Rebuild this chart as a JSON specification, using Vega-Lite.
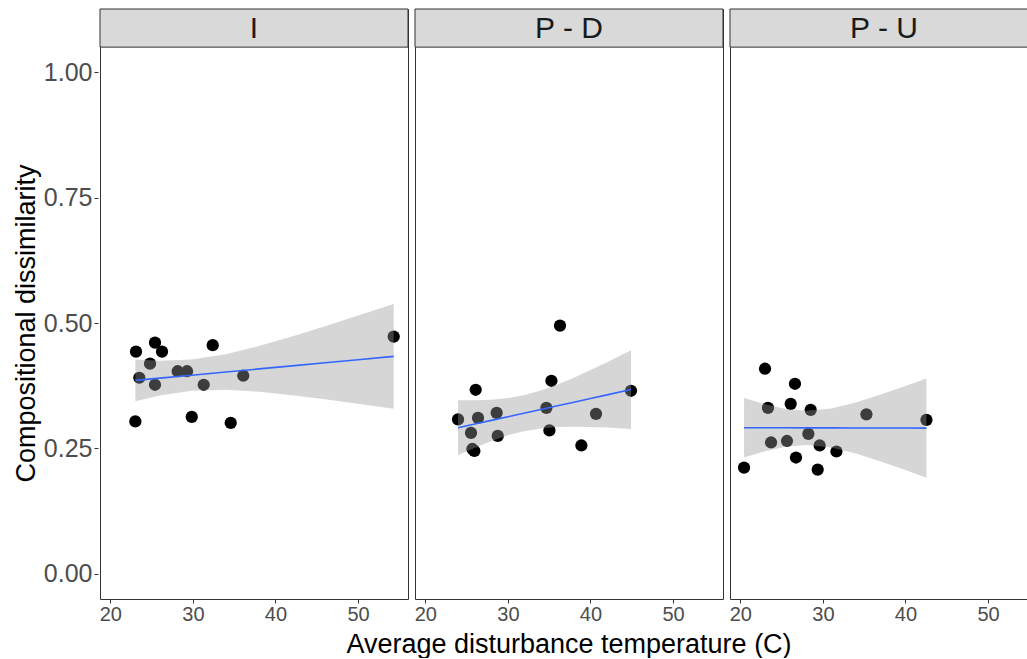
{
  "$schema": "https://vega.github.io/schema/vega-lite/v6.json",
  "padding": {"left": 12, "top": 8, "right": 0, "bottom": 0},
  "config": {
    "font": "Liberation Sans",
    "view": {"stroke": "#333333", "strokeWidth": 1},
    "axis": {
      "grid": false,
      "domain": false,
      "tickColor": "#333333",
      "tickSize": 4,
      "labelColor": "#4D4D4D",
      "labelFont": "Liberation Sans",
      "titleFont": "Liberation Sans",
      "titleFontWeight": "normal",
      "titleColor": "#000000"
    },
    "header": {
      "titleFont": "Liberation Sans",
      "titleFontWeight": "normal",
      "titleColor": "#000000"
    }
  },
  "data": {
    "values": [
      {"panel": "I", "label": "I"},
      {"panel": "P - D", "label": "P - D"},
      {"panel": "P - U", "label": "P - U"},

      {"panel": "I", "temp": 23.11, "diss": 0.443},
      {"panel": "I", "temp": 25.41, "diss": 0.461},
      {"panel": "I", "temp": 26.26, "diss": 0.443},
      {"panel": "I", "temp": 32.40, "diss": 0.456},
      {"panel": "I", "temp": 54.32, "diss": 0.473},
      {"panel": "I", "temp": 24.81, "diss": 0.419},
      {"panel": "I", "temp": 23.51, "diss": 0.391},
      {"panel": "I", "temp": 28.16, "diss": 0.404},
      {"panel": "I", "temp": 29.29, "diss": 0.404},
      {"panel": "I", "temp": 25.41, "diss": 0.377},
      {"panel": "I", "temp": 31.31, "diss": 0.377},
      {"panel": "I", "temp": 36.10, "diss": 0.395},
      {"panel": "I", "temp": 23.03, "diss": 0.304},
      {"panel": "I", "temp": 29.86, "diss": 0.313},
      {"panel": "I", "temp": 34.58, "diss": 0.301},

      {"panel": "P - D", "temp": 36.31, "diss": 0.495},
      {"panel": "P - D", "temp": 26.10, "diss": 0.367},
      {"panel": "P - D", "temp": 35.27, "diss": 0.385},
      {"panel": "P - D", "temp": 44.91, "diss": 0.365},
      {"panel": "P - D", "temp": 23.96, "diss": 0.308},
      {"panel": "P - D", "temp": 26.38, "diss": 0.311},
      {"panel": "P - D", "temp": 28.64, "diss": 0.321},
      {"panel": "P - D", "temp": 34.66, "diss": 0.331},
      {"panel": "P - D", "temp": 40.67, "diss": 0.319},
      {"panel": "P - D", "temp": 25.53, "diss": 0.281},
      {"panel": "P - D", "temp": 28.77, "diss": 0.275},
      {"panel": "P - D", "temp": 35.03, "diss": 0.286},
      {"panel": "P - D", "temp": 38.90, "diss": 0.256},
      {"panel": "P - D", "temp": 25.70, "diss": 0.249},
      {"panel": "P - D", "temp": 25.94, "diss": 0.245},

      {"panel": "P - U", "temp": 22.99, "diss": 0.409},
      {"panel": "P - U", "temp": 26.62, "diss": 0.379},
      {"panel": "P - U", "temp": 23.35, "diss": 0.331},
      {"panel": "P - U", "temp": 26.10, "diss": 0.339},
      {"panel": "P - U", "temp": 28.52, "diss": 0.327},
      {"panel": "P - U", "temp": 35.27, "diss": 0.318},
      {"panel": "P - U", "temp": 42.54, "diss": 0.307},
      {"panel": "P - U", "temp": 28.24, "diss": 0.279},
      {"panel": "P - U", "temp": 23.72, "diss": 0.262},
      {"panel": "P - U", "temp": 25.65, "diss": 0.265},
      {"panel": "P - U", "temp": 29.61, "diss": 0.256},
      {"panel": "P - U", "temp": 31.64, "diss": 0.244},
      {"panel": "P - U", "temp": 26.74, "diss": 0.232},
      {"panel": "P - U", "temp": 20.45, "diss": 0.212},
      {"panel": "P - U", "temp": 29.37, "diss": 0.208},

      {"panel": "I", "temp": 23.03, "lo": 0.3440, "hi": 0.4274, "fit": 0.3857},
      {"panel": "I", "temp": 26.00, "lo": 0.3554, "hi": 0.4250, "fit": 0.3902},
      {"panel": "I", "temp": 29.84, "lo": 0.3650, "hi": 0.4272, "fit": 0.3961},
      {"panel": "I", "temp": 34.00, "lo": 0.3671, "hi": 0.4379, "fit": 0.4025},
      {"panel": "I", "temp": 38.00, "lo": 0.3630, "hi": 0.4542, "fit": 0.4086},
      {"panel": "I", "temp": 42.00, "lo": 0.3562, "hi": 0.4732, "fit": 0.4147},
      {"panel": "I", "temp": 46.00, "lo": 0.3480, "hi": 0.4936, "fit": 0.4208},
      {"panel": "I", "temp": 50.00, "lo": 0.3391, "hi": 0.5149, "fit": 0.4270},
      {"panel": "I", "temp": 54.32, "lo": 0.3291, "hi": 0.5381, "fit": 0.4336},

      {"panel": "P - D", "temp": 23.96, "lo": 0.2364, "hi": 0.3464, "fit": 0.2914},
      {"panel": "P - D", "temp": 26.00, "lo": 0.2515, "hi": 0.3461, "fit": 0.2988},
      {"panel": "P - D", "temp": 28.00, "lo": 0.2649, "hi": 0.3473, "fit": 0.3061},
      {"panel": "P - D", "temp": 30.00, "lo": 0.2762, "hi": 0.3504, "fit": 0.3133},
      {"panel": "P - D", "temp": 31.78, "lo": 0.2839, "hi": 0.3557, "fit": 0.3198},
      {"panel": "P - D", "temp": 34.00, "lo": 0.2900, "hi": 0.3656, "fit": 0.3278},
      {"panel": "P - D", "temp": 36.00, "lo": 0.2927, "hi": 0.3775, "fit": 0.3351},
      {"panel": "P - D", "temp": 38.00, "lo": 0.2934, "hi": 0.3912, "fit": 0.3423},
      {"panel": "P - D", "temp": 40.00, "lo": 0.2930, "hi": 0.4062, "fit": 0.3496},
      {"panel": "P - D", "temp": 42.00, "lo": 0.2917, "hi": 0.4221, "fit": 0.3569},
      {"panel": "P - D", "temp": 44.91, "lo": 0.2888, "hi": 0.4460, "fit": 0.3674},

      {"panel": "P - U", "temp": 20.45, "lo": 0.2320, "hi": 0.3508, "fit": 0.2914},
      {"panel": "P - U", "temp": 23.00, "lo": 0.2444, "hi": 0.3382, "fit": 0.2913},
      {"panel": "P - U", "temp": 25.50, "lo": 0.2536, "hi": 0.3288, "fit": 0.2912},
      {"panel": "P - U", "temp": 28.05, "lo": 0.2572, "hi": 0.3250, "fit": 0.2911},
      {"panel": "P - U", "temp": 31.00, "lo": 0.2522, "hi": 0.3298, "fit": 0.2910},
      {"panel": "P - U", "temp": 34.00, "lo": 0.2399, "hi": 0.3419, "fit": 0.2909},
      {"panel": "P - U", "temp": 37.00, "lo": 0.2241, "hi": 0.3575, "fit": 0.2908},
      {"panel": "P - U", "temp": 40.00, "lo": 0.2069, "hi": 0.3745, "fit": 0.2907},
      {"panel": "P - U", "temp": 42.54, "lo": 0.1916, "hi": 0.3896, "fit": 0.2906}
    ]
  },
  "facet": {
    "column": {
      "field": "panel",
      "type": "nominal",
      "title": "Average disturbance temperature (C)",
      "header": {
        "labels": false,
        "titleOrient": "bottom",
        "titleFontSize": 27,
        "titlePadding": -3
      }
    }
  },
  "spacing": 4,
  "resolve": {"axis": {"x": "independent"}},
  "spec": {
    "width": 308,
    "height": 590,
    "layer": [
      {
        "transform": [{"filter": "isValid(datum.diss)"}],
        "mark": {"type": "circle", "size": 150, "color": "#000000", "opacity": 1},
        "encoding": {
          "x": {
            "field": "temp",
            "type": "quantitative",
            "scale": {"domain": [18.75, 56.05], "nice": false, "zero": false},
            "axis": {"values": [20, 30, 40, 50], "title": null, "labelFontSize": 20, "labelPadding": 1}
          },
          "y": {
            "field": "diss",
            "type": "quantitative",
            "scale": {"domain": [-0.05, 1.126], "nice": false, "zero": false},
            "axis": {
              "values": [0, 0.25, 0.5, 0.75, 1],
              "format": ".2f",
              "title": "Compositional dissimilarity",
              "titleFontSize": 27,
              "titlePadding": 3,
              "titleY": 314,
              "labelFontSize": 25,
              "labelPadding": 2
            }
          }
        }
      },
      {
        "transform": [{"filter": "isValid(datum.lo)"}],
        "mark": {"type": "area", "color": "#999999", "opacity": 0.4},
        "encoding": {
          "x": {"field": "temp", "type": "quantitative"},
          "y": {"field": "lo", "type": "quantitative"},
          "y2": {"field": "hi"}
        }
      },
      {
        "transform": [{"filter": "isValid(datum.fit)"}],
        "mark": {"type": "line", "color": "#3366FF", "strokeWidth": 1.6},
        "encoding": {
          "x": {"field": "temp", "type": "quantitative"},
          "y": {"field": "fit", "type": "quantitative"}
        }
      },
      {
        "transform": [{"filter": "isValid(datum.label)"}],
        "mark": {"type": "rect", "fill": "#D9D9D9", "stroke": "#333333", "strokeWidth": 1},
        "encoding": {
          "x": {"datum": 18.75, "type": "quantitative"},
          "x2": {"datum": 56.05},
          "y": {"datum": 1.05, "type": "quantitative"},
          "y2": {"datum": 1.126}
        }
      },
      {
        "transform": [{"filter": "isValid(datum.label)"}],
        "mark": {"type": "text", "fontSize": 30, "color": "#1A1A1A", "baseline": "middle", "align": "center", "dy": 1},
        "encoding": {
          "x": {"datum": 37.4, "type": "quantitative"},
          "y": {"datum": 1.088, "type": "quantitative"},
          "text": {"field": "label", "type": "nominal"}
        }
      }
    ]
  }
}
